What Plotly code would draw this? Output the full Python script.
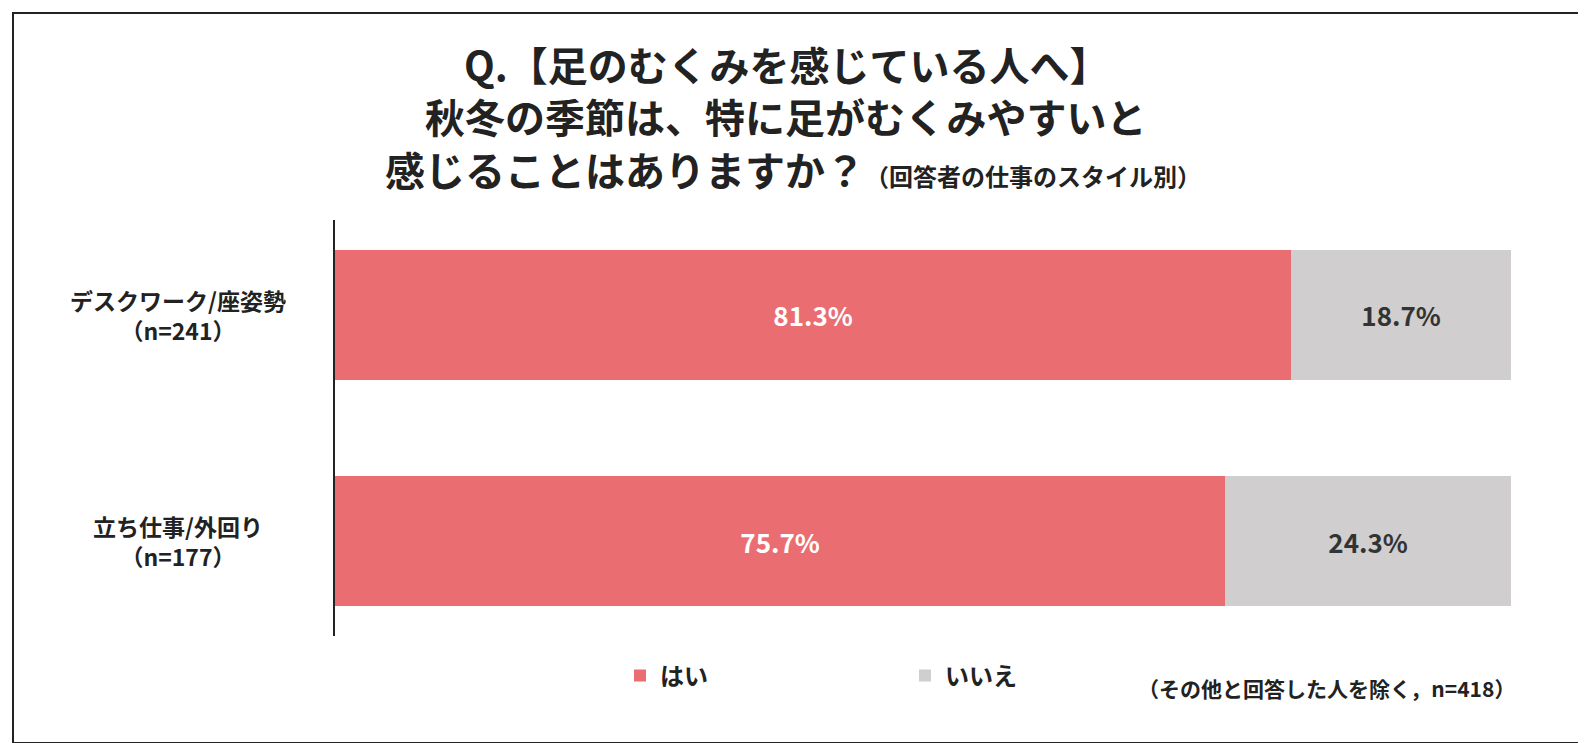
import plotly.graph_objects as go

categories = ["デスクワーク/座姿勢<br>（n=241）", "立ち仕事/外回り<br>（n=177）"]
yes_vals = [81.3, 75.7]
no_vals = [18.7, 24.3]
series_names = ["はい", "いいえ"]

W, H = 1586, 743
L, R, T, B = 327, 83, 212, 115
pw, ph = W - L - R, H - T - B
F = "Noto Sans CJK JP"

fig = go.Figure()
fig.add_bar(y=categories, x=yes_vals, name=series_names[0], orientation="h",
            marker=dict(color="#EA6D72", line=dict(width=0)), width=0.575,
            texttemplate="%{x:.1f}%", textposition="inside", insidetextanchor="middle",
            textfont=dict(family=F, size=26, color="white", weight="bold"))
fig.add_bar(y=categories, x=no_vals, name=series_names[1], orientation="h",
            marker=dict(color="#D0CECE", line=dict(width=0)), width=0.575,
            texttemplate="%{x:.1f}%", textposition="inside", insidetextanchor="middle",
            textfont=dict(family=F, size=26, color="#333333", weight="bold"))

def px(x): return (x - L) / pw
def py(y): return (H - B - y) / ph

def ann(x, y, text, size):
    return dict(xref="paper", yref="paper", x=px(x), y=py(y), showarrow=False,
                xanchor="center", yanchor="middle", text=text,
                font=dict(family=F, size=size, color="#222222", weight="bold"))

annotations = [
    ann(778, 56, "Q.【足のむくみを感じている人へ】", 40),
    ann(778, 108, "秋冬の季節は、特に足がむくみやすいと", 40),
    ann(785, 161, "感じることはありますか？<span style='font-size:24px'>（回答者の仕事のスタイル別）</span>", 40),
    ann(1318, 680, "（その他と回答した人を除く，n=418）", 21),
]
for c in categories:
    annotations.append(dict(xref="paper", yref="y", x=px(170), y=c, showarrow=False,
                            xanchor="center", yanchor="middle", align="center", text=c,
                            font=dict(family=F, size=23, color="#222222", weight="bold")))

fig.update_layout(
    width=W, height=H, barmode="stack",
    margin=dict(l=L, r=R, t=T, b=B),
    plot_bgcolor="white", paper_bgcolor="white",
    font=dict(family=F, color="#222222"),
    xaxis=dict(range=[0, 100], visible=False),
    yaxis=dict(range=[1.42, -0.42], showline=True, linecolor="#222222", linewidth=2,
               ticks="", showticklabels=False),
    showlegend=True,
    legend=dict(orientation="h", x=px(612), y=py(668), xanchor="left", yanchor="middle",
                font=dict(family=F, size=24, color="#222222", weight="bold"),
                entrywidth=240, entrywidthmode="pixels", traceorder="normal"),
    shapes=[dict(type="rect", xref="paper", yref="paper",
                 x0=px(5), x1=px(1580), y0=py(735), y1=py(5),
                 line=dict(color="#222222", width=2))],
    annotations=annotations,
)
fig.write_html("out.html")
